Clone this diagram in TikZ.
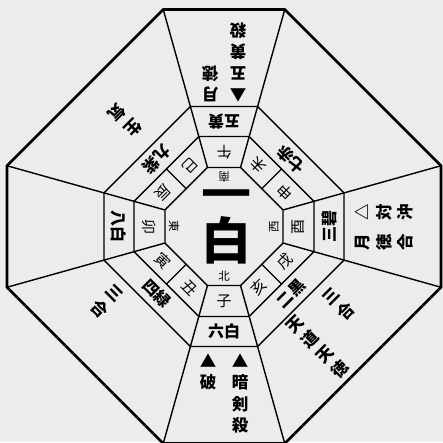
\documentclass[tikz,border=0pt]{standalone}
\usepackage{fontspec}
\newfontfamily\jp{Noto Sans CJK JP}
\IfFontExistsTF{Noto Sans CJK JP Black}
  {\newfontfamily\jpone{Noto Sans CJK JP Black}}
  {\newfontfamily\jpone{Noto Sans CJK JP}}
\usetikzlibrary{calc}
\definecolor{paper}{RGB}{236,236,236}
\tikzset{
  frame/.style={line width=2.6pt},
  cell/.style={line width=1.4pt},
  star/.style={font=\jp\bfseries\fontsize{16}{16}\selectfont, inner sep=0pt},
  branch/.style={font=\jp\fontsize{15}{15}\selectfont, inner sep=0pt, transform shape},
  hoi/.style={font=\jp\fontsize{11.5}{11.5}\selectfont, inner sep=0pt},
  note/.style={font=\jp\bfseries\fontsize{16.5}{21.5}\selectfont, align=center, inner sep=0pt, anchor=north, transform shape},
  big/.style={font=\jp\bfseries\fontsize{50}{50}\selectfont, inner sep=0pt}
}

\begin{document}
\begin{tikzpicture}[x=1pt, y=1pt]
\useasboundingbox[fill=paper] (-224,-215.5) rectangle (219,226.5);
% corners of the four octagons
\def\kk{0.28}
\foreach \n/\R in {c/59, a/90, b/120, o/217}
  \foreach \i/\u/\v in {1/\kk/1, 2/1/\kk, 3/1/-\kk, 4/\kk/-1, 5/-\kk/-1, 6/-1/-\kk, 7/-1/\kk, 8/-\kk/1}
    \coordinate (\n\i) at (\u*\R, \v*\R);

\draw[frame] (o1) -- (o2) -- (o3) -- (o4) -- (o5) -- (o6) -- (o7) -- (o8) -- cycle;
\foreach \n in {c,a,b}
  \draw[cell] (\n1) -- (\n2) -- (\n3) -- (\n4) -- (\n5) -- (\n6) -- (\n7) -- (\n8) -- cycle;
\foreach \i in {1,...,8}
  \draw[cell] (c\i) -- (o\i);
\foreach \i/\j in {1/2, 3/4, 5/6, 7/8}
  \draw[cell] ($(c\i)!.5!(c\j)$) -- ($(a\i)!.5!(a\j)$);

% centre
\node[big, font=\jpone\bfseries\fontsize{50}{50}\selectfont] (ichi) at (2,25) {一};
\node[big] (haku) at (2,-14) {白};
\foreach \rot/\txt [count=\i] in {180/南, 90/西, 0/北, -90/東}
  \node[hoi, rotate=\rot] (hoi\i) at (\rot-90:50) {\txt};

% twelve branches
\foreach \rot/\lat/\r/\txt [count=\i] in {180/0/74.5/午, 135/19/67.5/未, 135/-19/67.5/申,
    90/0/74.5/酉, 45/19/67.5/戌, 45/-19/67.5/亥, 0/0/74.5/子, -45/19/67.5/丑, -45/-19/67.5/寅,
    -90/0/74.5/卯, -135/19/67.5/辰, -135/-19/67.5/巳}
{
  \begin{scope}[rotate=\rot]
    \node[branch] (shi\i) at (\lat,-\r) {\txt};
  \end{scope}
}

% nine stars
\foreach \rot/\d/\txt [count=\i] in {180/105/五黄, 135/95/七赤, 90/105/三碧, 45/95/二黒,
    0/105/六白, -45/95/四緑, -90/105/八白, -135/95/九紫}
  \node[star, rotate=\rot] (sei\i) at (\rot-90:\d) {\txt};

% outer notes
\begin{scope}[rotate=180]
  \node[note] (gettoku) at (14,-124) {月\\徳};
  \node[note] (gooh) at (-14,-124) {▲\\五\\黄\\殺};
\end{scope}
\begin{scope}[rotate=90]
  \node[note] (taichu) at (14,-131) {△\\対\\沖};
  \node[note] (tokugo) at (-16,-131) {月\\徳\\合};
\end{scope}
\begin{scope}[rotate=45]
  \node[note] (sango1) at (26,-118) {三\\合};
  \node[note] (tendo) at (-19,-112) {天\\道\\天\\徳};
\end{scope}
\begin{scope}[rotate=0]
  \node[note] (anken) at (16,-127) {▲\\暗\\剣\\殺};
  \node[note] (ha) at (-16,-127) {▲\\破};
\end{scope}
\begin{scope}[rotate=-45]
  \node[note] (sango2) at (-30,-118) {三\\合};
\end{scope}
\begin{scope}[rotate=-135]
  \node[note] (seiki) at (-5,-126) {生\\気};
\end{scope}
\end{tikzpicture}
\end{document}
